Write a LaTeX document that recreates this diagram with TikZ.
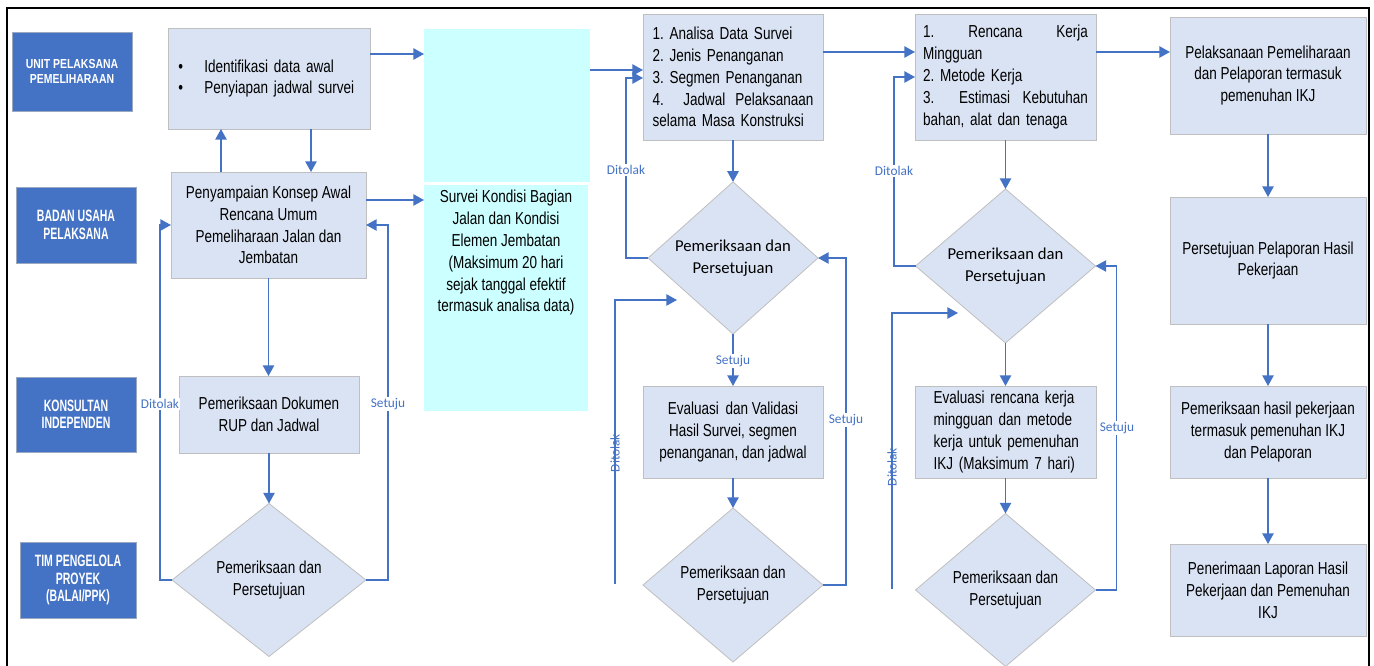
\documentclass[tikz,border=0pt]{standalone}
\usepackage{fontspec}
\setmainfont{Liberation Sans}[FakeStretch=0.78]
\newfontfamily\lanefont{Liberation Sans}[FakeStretch=0.64]
\newfontfamily\unitfont{Liberation Sans}[FakeStretch=0.8]
\newfontfamily\calfont{Carlito}
\usetikzlibrary{shapes.geometric,arrows.meta,calc}
\definecolor{boxfill}{HTML}{DAE3F3}
\definecolor{boxline}{HTML}{BFBFBF}
\definecolor{flow}{HTML}{4472C4}
\definecolor{lane}{HTML}{4472C4}
\definecolor{survey}{HTML}{CCFFFF}
\newcommand\jl[2]{\makebox[#1][s]{#2}}
\frenchspacing
\begin{document}
\begin{tikzpicture}[x=0.75pt,y=-0.75pt,
  every node/.style={inner sep=0pt, outer sep=0pt},
  sz/.style 2 args={minimum width=0.75*#1pt, minimum height=0.75*#2pt},
  proc/.style={draw=boxline, line width=0.6pt, fill=boxfill,
    font=\fontsize{13}{16.4}\selectfont, align=center},
  dec/.style={diamond, draw=boxline, line width=0.6pt, fill=boxfill,
    font=\fontsize{13}{16.4}\selectfont, align=center},
  deccal/.style={dec, font=\calfont\fontsize{12.5}{16.5}\selectfont},
  lanebox/.style={fill=lane, draw=boxline!70!lane, line width=0.6pt, text=white,
    font=\lanefont\bfseries\fontsize{12.3}{13}\selectfont, align=center},
  arr/.style={draw=flow, line width=1.1pt, -{Triangle[length=8pt,width=8.5pt]}},
  tag/.style={text=flow, font=\calfont\fontsize{10}{12}\selectfont, fill=white, inner sep=1pt},
  vtag/.style={text=flow, font=\calfont\fontsize{10}{12}\selectfont, rotate=90},
]
\useasboundingbox (0,0) rectangle (1374,666);

% outer frame
\draw[line width=1.6pt] (7,666) -- (7,8) -- (1369,8) -- (1369,666);

% lanes
\node[lanebox, sz={120}{79}, font=\unitfont\bfseries\fontsize{9.8}{11.3}\selectfont] (l1) at (72,71.5) {UNIT PELAKSANA\\PEMELIHARAAN};
\node[lanebox, sz={120}{76}] (l2) at (76,225) {BADAN USAHA\\PELAKSANA};
\node[lanebox, sz={120}{75}] (l3) at (76,414.5) {KONSULTAN\\INDEPENDEN};
\node[lanebox, sz={116}{76}] (l4) at (78,580) {TIM PENGELOLA\\PROYEK\\(BALAI/PPK)};

% first column
\node[proc, sz={202}{101}, align=left, text width=136pt] (b1) at (269,78.5)
  {\makebox[19.5pt][l]{\textbullet}Identifikasi data awal\\
   \makebox[19.5pt][l]{\textbullet}Penyiapan jadwal survei};
\node[proc, sz={195}{106}] (b2) at (268.5,225)
  {Penyampaian Konsep Awal\\Rencana Umum\\Pemeliharaan Jalan dan\\Jembatan};
\node[proc, sz={180}{77}] (b3) at (269,414.5) {Pemeriksaan Dokumen\\RUP dan Jadwal};
\node[dec, sz={194}{153}] (d1) at (269,580) {Pemeriksaan dan\\Persetujuan};

% survey column
\node[fill=survey, sz={166}{153}] (cT) at (507,105.5) {};
\node[fill=survey, sz={164}{226}] (cB) at (506,298) {};
\node[anchor=north, font=\fontsize{13}{16.4}\selectfont, align=center] (cBt) at (506,190)
  {Survei Kondisi Bagian\\Jalan dan Kondisi\\Elemen Jembatan\\(Maksimum 20 hari\\sejak tanggal efektif\\termasuk analisa data)};

% analysis column
\node[proc, sz={180}{126}, align=left, text width=120.75pt] (b4) at (733,77)
  {1. Analisa Data Survei\\2. Jenis Penanganan\\3. Segmen Penanganan\\
   \jl{120.75pt}{4.\hfill\hfill Jadwal\hfill Pelaksanaan}\\selama Masa Konstruksi};
\node[deccal, sz={170}{152}] (d2) at (733,258) {Pemeriksaan dan\\Persetujuan};
\node[proc, sz={180}{92}] (b5) at (733,432) {Evaluasi\, dan Validasi\\Hasil Survei, segmen\\penanganan, dan jadwal};
\node[dec, sz={180}{154}] (d3) at (733,585) {Pemeriksaan dan\\Persetujuan};

% weekly plan column
\node[proc, sz={181}{126}, align=left, text width=123.75pt] (b6) at (1005.5,77)
  {\jl{123.75pt}{1.\hfill Rencana\hfill Kerja}\\Mingguan\\2. Metode Kerja\\
   \jl{123.75pt}{3.\hfill\hfill Estimasi\hfill Kebutuhan}\\bahan, alat dan tenaga};
\node[deccal, sz={180}{154}] (d4) at (1005.5,266) {Pemeriksaan dan\\Persetujuan};
\node[proc, sz={181}{92}, align=left, text width=108pt] (b8) at (1005.5,432)
  {\jl{108pt}{Evaluasi rencana kerja}\\\jl{108pt}{mingguan dan metode}\\
   \jl{108pt}{kerja untuk pemenuhan}\\IKJ (Maksimum 7 hari)};
\node[dec, sz={180}{153}] (d5) at (1005.5,590) {Pemeriksaan dan\\Persetujuan};

% execution column
\node[proc, sz={196}{117}] (b7) at (1268,75.5) {Pelaksanaan Pemeliharaan\\dan Pelaporan termasuk\\pemenuhan IKJ};
\node[proc, sz={196}{127}] (b9) at (1268,260.5) {Persetujuan Pelaporan Hasil\\Pekerjaan};
\node[proc, sz={196}{92}] (b10) at (1268,432) {Pemeriksaan hasil pekerjaan\\termasuk pemenuhan IKJ\\dan Pelaporan};
\node[proc, sz={196}{92}] (b11) at (1268,590) {Penerimaan Laporan Hasil\\Pekerjaan dan Pemenuhan\\IKJ};

% connectors, first column
\draw[arr] ($(b1.east)+(0,-24.5)$) coordinate (p1) -- (p1 -| cT.west);
\draw[arr] ($(b2.east)+(0,-25)$) coordinate (p2) -- (p2 -| cB.west);
\draw[arr] ($(b2.north)+(-47.5,0)$) coordinate (p3) -- (p3 |- b1.south);
\draw[arr] ($(b1.south)+(42,0)$) coordinate (p4) -- (p4 |- b2.north);
\draw[arr] (b2.south) -- (b2.south |- b3.north);
\draw[arr] (b3.south) -- (d1.north);
\draw[arr] (d1.west) -| ($(b2.west)+(-11,0)$) -- (b2.west);
\draw[arr] (d1.east) -| ($(b2.east)+(22,0)$) -- (b2.east);
\node[tag] (t1) at (160,404) {Ditolak};
\node[tag] (t2) at (388,404) {Setuju};

% connectors, analysis column
\draw[arr] ($(cT.east)+(0,-35.5)$) coordinate (p5) -- (p5 -| b4.west);
\draw[arr] (d2.west) -| ($(b4.west)+(-17,1)$) -- ($(b4.west)+(0,1)$);
\node[tag] (t3) at (626,170) {Ditolak};
\draw[arr] (b4.south) -- (d2.north);
\draw[arr] (d2.south) -- (b5.north);
\node[tag] (t4) at (733,361) {Setuju};
\draw[arr] (b5.south) -- (d3.north);
\draw[arr] (d3.east) -| ($(d2.east)+(28,0)$) -- (d2.east);
\node[tag] (t5) at (846,420) {Setuju};
\coordinate (r1) at (615,584);
\coordinate (r1e) at (677,300);
\draw[arr] (r1) |- (r1e);
\node[vtag] (t6) at (615,453) {Ditolak};

% connectors, weekly plan column
\draw[arr] ($(b4.east)+(0,-25)$) coordinate (p6) -- (p6 -| b6.west);
\draw[arr] ($(b6.east)+(0,-25)$) coordinate (p7) -- (p7 -| b7.west);
\draw[arr] (d4.west) -| ($(b6.west)+(-21,0)$) -- (b6.west);
\node[tag] (t7) at (894,171) {Ditolak};
\draw[arr] (b6.south) -- (d4.north);
\draw[arr] (d4.south) -- (b8.north);
\draw[arr] (b8.south) -- (d5.north);
\draw[arr] (d5.east) -| ($(d4.east)+(21,0)$) -- (d4.east);
\node[tag] (t8) at (1117,428) {Setuju};
\coordinate (r2) at (892,589);
\coordinate (r2e) at (958,313);
\draw[arr] (r2) |- (r2e);
\node[vtag] (t9) at (892,467) {Ditolak};

% connectors, execution column
\draw[arr] (b7.south) -- (b9.north);
\draw[arr] (b9.south) -- (b10.north);
\draw[arr] (b10.south) -- (b11.north);
\end{tikzpicture}
\end{document}
